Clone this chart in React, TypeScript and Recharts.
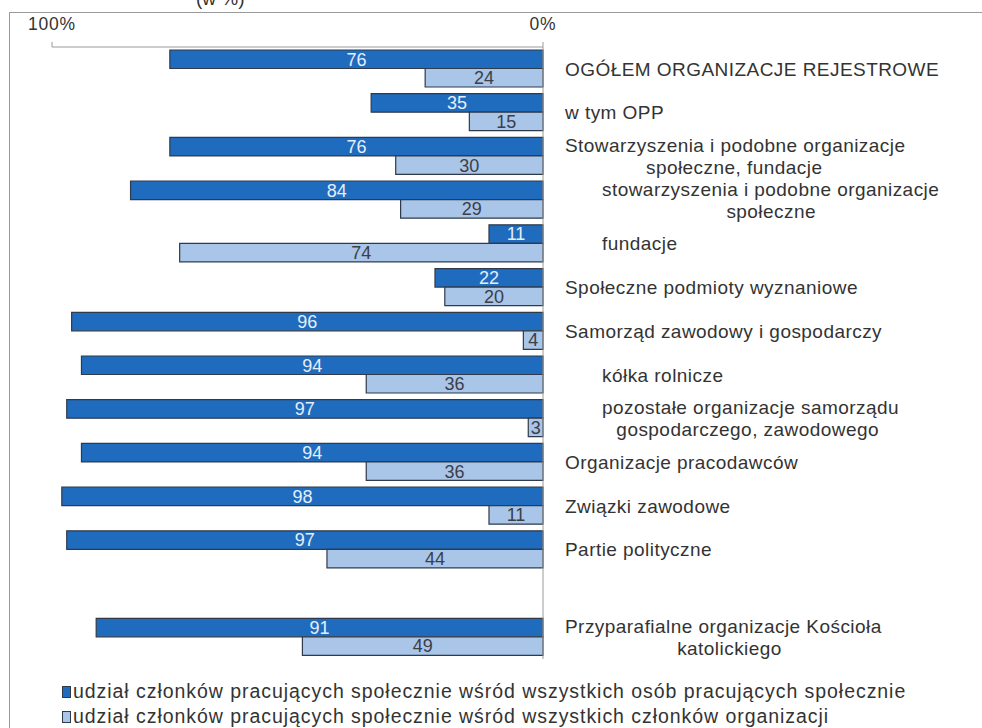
import React from 'react';
import { BarChart, Bar, XAxis, YAxis, LabelList } from 'recharts';

// category labels, "\n" splits a label into two lines ('' = empty spacer row)
const categories = [
  'OGÓŁEM ORGANIZACJE REJESTROWE',
  'w tym OPP',
  'Stowarzyszenia i podobne organizacje\nspołeczne, fundacje',
  'stowarzyszenia i podobne organizacje\nspołeczne',
  'fundacje',
  'Społeczne podmioty wyznaniowe',
  'Samorząd zawodowy i gospodarczy',
  'kółka rolnicze',
  'pozostałe organizacje samorządu\ngospodarczego, zawodowego',
  'Organizacje pracodawców',
  'Związki zawodowe',
  'Partie polityczne',
  '',
  'Przyparafialne organizacje Kościoła\nkatolickiego',
];

// sub-categories are indented in the original
const subCategories = [
  'stowarzyszenia i podobne organizacje\nspołeczne',
  'fundacje',
  'kółka rolnicze',
  'pozostałe organizacje samorządu\ngospodarczego, zawodowego',
];

const shareOfAllWorkers = [76, 35, 76, 84, 11, 22, 96, 94, 97, 94, 98, 97, null, 91];
const shareOfMembers = [24, 15, 30, 29, 74, 20, 4, 36, 3, 36, 11, 44, null, 49];

const seriesNames = [
  'udział członków pracujących społecznie wśród wszystkich osób pracujących społecznie',
  'udział członków pracujących społecznie wśród wszystkich członków organizacji',
];

const xTicks = [0, 100];

const DARK = '#1f6cbf';
const LIGHT = '#a9c5e8';
const EDGE = '#2f3b4b';
const FONT = '"Liberation Sans", Arial, sans-serif';

const chartData = categories.map((name, i) => ({
  name: name === '' ? ' ' : name,
  all: shareOfAllWorkers[i],
  members: shareOfMembers[i],
}));

const CategoryTick = ({ y, payload }: any) => {
  const label: string = payload.value.trim();
  if (!label) return null;
  const lines = label.split('\n');
  const startX = subCategories.includes(label) ? 602 : 565;
  const textStyle = { fontFamily: FONT, fontSize: 19, fill: '#333', letterSpacing: 0.45 };
  if (lines.length === 1) {
    return (
      <text x={startX} y={y} dy="0.35em" textAnchor="start" style={textStyle}>
        {lines[0]}
      </text>
    );
  }
  // second line is centred under the first one
  const center = startX + lines[0].length * 9.4 / 2;
  return (
    <g>
      <text x={startX} y={y - 11} dy="0.35em" textAnchor="start" style={textStyle}>
        {lines[0]}
      </text>
      <text x={center} y={y + 11} dy="0.35em" textAnchor="middle" style={textStyle}>
        {lines[1]}
      </text>
    </g>
  );
};

const LegendBox = () => (
  <div
    style={{
      position: 'absolute',
      left: 62,
      top: 679,
      fontFamily: FONT,
      fontSize: 19.5,
      color: '#333',
      letterSpacing: 0.95,
      whiteSpace: 'nowrap',
    }}
  >
    {seriesNames.map((n, i) => (
      <div key={n} style={{ display: 'flex', alignItems: 'center', height: 25 }}>
        <span
          style={{
            display: 'inline-block',
            width: 7,
            height: 10,
            background: i === 0 ? DARK : LIGHT,
            border: `1px solid ${EDGE}`,
            marginRight: 2,
          }}
        />
        {n}
      </div>
    ))}
  </div>
);

export default function App() {
  return (
    <div
      style={{
        position: 'absolute',
        left: 0,
        top: 0,
        width: 982,
        height: 728,
        overflow: 'hidden',
        background: '#fff',
      }}
    >
      <div
        style={{
          position: 'absolute',
          left: 9,
          top: 12,
          width: 1000,
          height: 740,
          border: '1px solid #9a9a9a',
        }}
      />
      <div
        style={{
          position: 'absolute',
          left: 196,
          top: -11,
          fontFamily: FONT,
          fontSize: 19,
          lineHeight: '19px',
          color: '#333',
        }}
      >
        (w %)
      </div>
      <div style={{ position: 'absolute', left: 0, top: 0 }}>
        <BarChart
          width={982}
          height={728}
          data={chartData}
          layout="vertical"
          margin={{ top: 0, right: 0, left: 52, bottom: 69 }}
          barGap={0}
          barSize={18.5}
        >
          <XAxis
            type="number"
            domain={[0, 100]}
            ticks={xTicks}
            reversed
            orientation="top"
            height={47}
            tickFormatter={(v) => `${v}%`}
            axisLine={{ stroke: '#9a9a9a' }}
            tickLine={{ stroke: '#9a9a9a' }}
            tickSize={5}
            tickMargin={12}
            tick={{ fontFamily: FONT, fontSize: 17.5, fill: '#333', letterSpacing: 0.8 }}
          />
          <YAxis
            type="category"
            dataKey="name"
            orientation="right"
            width={439}
            axisLine={{ stroke: '#9a9a9a' }}
            tickLine={false}
            interval={0}
            tick={<CategoryTick />}
          />
          <Bar dataKey="all" name={seriesNames[0]} fill={DARK} stroke={EDGE} strokeWidth={1.2} isAnimationActive={false}>
            <LabelList dataKey="all" position="center" fill="#e6eef8" style={{ fontFamily: FONT, fontSize: 18 }} />
          </Bar>
          <Bar dataKey="members" name={seriesNames[1]} fill={LIGHT} stroke={EDGE} strokeWidth={1.2} isAnimationActive={false}>
            <LabelList dataKey="members" position="center" fill="#3a3f48" style={{ fontFamily: FONT, fontSize: 18 }} />
          </Bar>
        </BarChart>
      </div>
      <LegendBox />
    </div>
  );
}
